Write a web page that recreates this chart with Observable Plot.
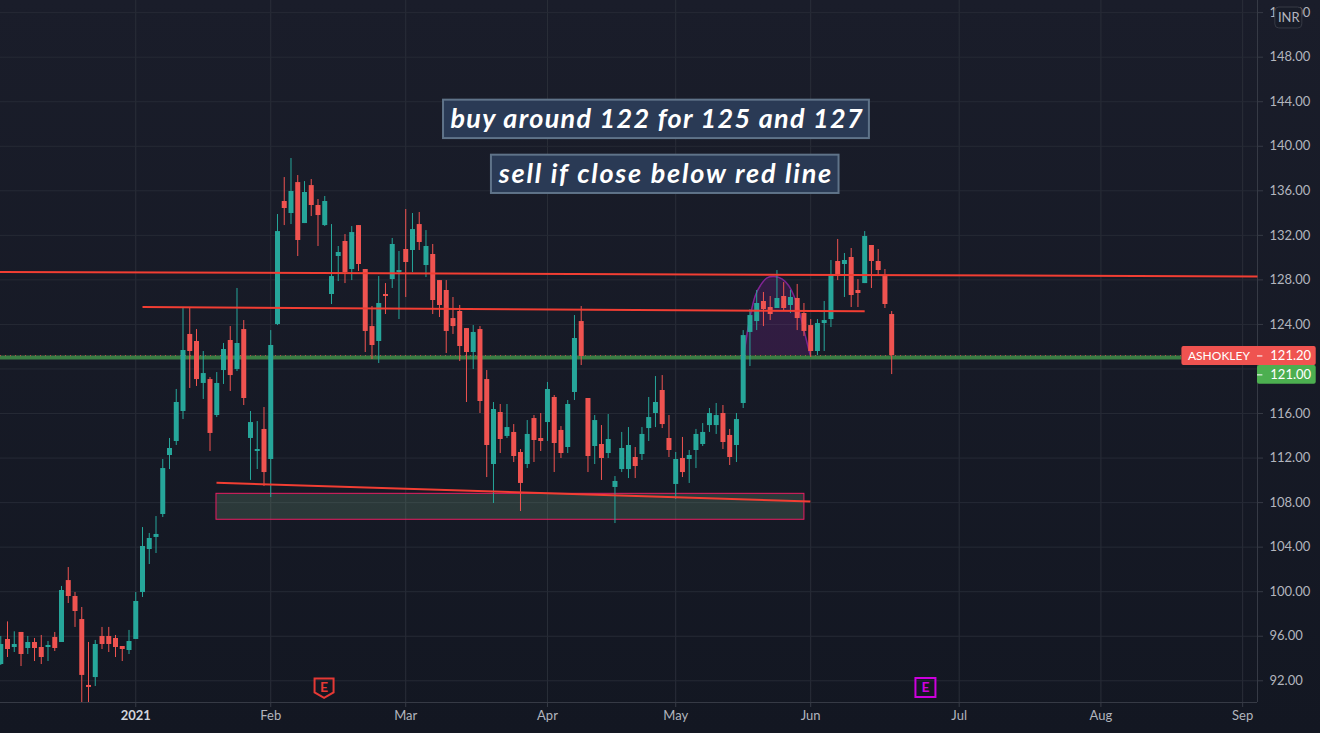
<!DOCTYPE html>
<html>
<head>
<meta charset="utf-8">
<script src="https://cdn.jsdelivr.net/npm/d3@7"></script>
<script src="https://cdn.jsdelivr.net/npm/@observablehq/plot@0.6"></script>
<style>
html,body{margin:0;padding:0;background:#131722;overflow:hidden}
svg{display:block}
.ann1 text{letter-spacing:1.3px}
.ann2 text{letter-spacing:1.8px}
</style>
</head>
<body>
<div id="chart"></div>
<script>
const firstIndex = -20;
const opens = [93.46,95.71,94.99,96.34,94.90,95.44,94.99,94.99,95.89,95.44,101.0,99.57,97.50,91.58,92.29,95.98,95.98,95.80,95.08,94.72,
95.71,99.93,103.79,104.87,106.93,112.23,113.49,116.18,123.10,122.47,118.70,119.05,115.82,119.86,122.56,119.95,123.54,113.76,112.59,114.57,
111.87,123.99,135.04,133.96,136.74,133.06,136.47,134.68,132.88,126.69,130.10,131.45,128.93,132.88,128.93,123.81,122.47,126.69,128.03,128.66,
130.73,130.64,132.97,129.29,130.28,127.94,127.05,124.53,125.16,123.63,121.48,123.54,119.05,111.42,116.09,113.94,114.30,112.50,111.42,115.55,
113.76,115.19,117.44,114.48,112.95,117.89,124.26,117.35,113.04,113.22,112.41,109.36,110.97,110.97,112.05,112.32,114.65,116.0,118.07,113.76,
109.63,111.96,111.87,112.68,113.22,114.92,114.92,116.0,114.03,113.13,116.90,123.28,124.26,126.06,125.52,125.43,126.51,125.70,126.33,124.98,
123.90,121.57,124.08,124.44,129.65,129.38,130.01,127.05,127.67,131.09,129.65,128.39,124.89];
const closes = [95.26,94.81,95.26,94.36,95.44,94.90,94.09,95.17,94.90,100.11,99.57,98.22,92.48,91.40,95.26,95.26,95.26,94.99,94.81,95.53,
99.12,104.06,104.78,105.14,111.06,112.86,116.99,121.66,121.57,119.05,119.59,114.21,118.70,121.75,119.41,122.29,117.35,115.19,112.77,110.70,
122.11,132.34,134.41,135.94,131.54,135.85,134.68,133.78,135.04,128.30,130.46,128.66,132.25,129.38,123.37,122.11,125.88,126.51,131.18,128.84,
129.56,132.52,131.36,131.0,126.15,125.70,123.37,123.81,122.02,121.48,123.28,117.08,113.13,116.36,113.67,114.74,112.14,109.72,114.12,113.58,
113.49,118.16,113.31,112.41,116.81,122.74,121.12,112.14,115.37,111.96,113.67,109.90,112.86,113.13,111.24,114.12,115.64,116.99,115.01,112.68,
111.87,110.70,112.23,114.12,114.30,116.0,115.82,113.40,112.05,115.46,123.0,124.80,125.88,125.34,124.89,126.33,125.43,126.42,124.53,123.37,
121.57,124.08,124.35,128.39,128.30,129.74,126.60,126.78,131.90,129.65,128.84,125.79,121.20];
const highs = [95.98,97.29,96.40,96.34,95.98,95.80,96.07,95.53,96.34,100.47,102.17,99.93,98.58,95.44,95.62,96.79,96.79,96.07,95.08,96.52,
99.93,105.76,105.23,106.75,111.87,113.76,118.16,125.52,125.43,123.54,121.57,119.23,119.68,122.29,123.81,127.23,124.35,116.18,115.28,116.54,
123.45,133.87,137.19,138.90,137.37,136.83,137.01,135.22,135.49,132.97,131.0,132.07,132.79,132.88,128.93,125.61,128.30,127.67,131.72,130.55,
134.32,133.96,134.05,132.43,131.18,127.94,127.94,126.42,125.70,123.63,123.90,123.81,119.86,116.99,116.81,116.81,115.01,112.77,115.37,115.82,
116.0,118.79,117.62,114.83,117.17,124.80,125.61,117.35,115.82,114.92,115.91,110.34,114.30,114.74,112.95,114.74,117.44,119.32,119.41,115.82,
112.50,113.85,112.68,114.57,115.10,116.45,116.90,116.72,114.57,116.0,123.45,125.34,127.05,126.87,126.51,128.84,127.76,127.05,127.59,125.88,
124.44,124.44,126.06,129.74,131.63,130.37,130.82,128.03,132.34,131.09,130.73,128.93,125.16];
const lows = [93.37,94.09,94.54,93.28,94.36,93.73,93.46,93.73,94.63,95.44,98.94,96.79,89.5,89.5,91.49,94.81,94.54,94.09,93.73,94.36,
95.71,99.48,102.44,103.43,106.66,110.97,113.13,115.46,118.25,118.43,117.26,112.59,115.64,118.61,117.98,119.77,116.72,109.99,110.97,109.45,
108.46,123.90,132.88,132.97,130.10,133.06,133.69,131.0,132.79,125.79,127.85,127.67,127.94,128.75,121.48,120.85,120.49,124.89,127.23,124.44,
126.42,128.66,130.64,128.21,124.89,124.62,121.39,123.10,120.67,116.99,119.95,116.0,110.25,107.92,112.41,113.76,111.60,107.20,111.06,111.60,
112.59,113.49,110.70,111.96,112.41,117.17,120.31,110.70,111.42,109.99,111.96,106.12,110.70,110.16,110.16,111.78,113.49,114.74,114.65,112.05,
108.28,110.25,109.72,111.06,113.04,114.30,114.12,112.77,111.33,111.60,116.45,120.22,123.45,123.81,124.35,125.43,125.25,124.98,123.45,122.92,
121.03,121.21,121.57,123.72,127.94,126.42,125.52,125.52,127.67,127.23,128.39,125.43,119.50];

const yGrid = [92,96,100,104,108,112,116,120,124,128,132,136,140,144,148,152];
const yTicks = [92,96,100,104,108,112,116,124,128,132,136,140,144,148,152];
const xTicks = [20,40,61,80,100,122,143,164];
const xLabels = ["Feb","Mar","Apr","May","Jun","Jul","Aug","Sep"];
const yearTick = [0];
const yearLabel = "2021";

const arcIdx = [90.08,90.57,91.06,91.8,92.55,93.53,94.63,95.74,96.73,97.7,98.47,99.2,99.95];
const arcPrice = [121.21,123.16,124.8,126.6,127.5,128.18,128.3,128.09,127.5,126.3,124.8,123.0,121.21];

const xMin = -20.04, xMax = 166.2, yMin = 90.05, yMax = 153.09;
const upColor = "#26a69a", downColor = "#ef5350", lineRed = "#f23e33";
const font = "Lato, 'Open Sans', sans-serif";

const candles = opens.map((o,i)=>({i:i+firstIndex,o,c:closes[i],h:highs[i],l:lows[i]}));
const col = d => d.c >= d.o ? upColor : downColor;
const arc = arcIdx.map((x,i)=>({x,y:arcPrice[i]}));
const trendLines = [
  {x1:xMin-0.3,y1:128.72,x2:xMax,y2:128.31},
  {x1:1,y1:125.57,x2:108,y2:125.18},
  {x1:11.96,y1:109.78,x2:99.95,y2:108.10}
];
const boxes = [
  {x1:45.6,x2:108.7,y1:140.69,y2:144.14,label:"buy around 122 for 125 and 127",tx:77.25,ty:142.42},
  {x1:52.7,x2:104.2,y1:135.76,y2:139.2,label:"sell if close below red line",tx:78.55,ty:137.48}
];
const shield = {draw(c){c.moveTo(-9.5,-9);c.lineTo(9.5,-9);c.lineTo(9.5,5);c.lineTo(0,10.5);c.lineTo(-9.5,5);c.closePath();}};
const square = {draw(c){c.moveTo(-10,-9.5);c.lineTo(10,-9.5);c.lineTo(10,9.5);c.lineTo(-10,9.5);c.closePath();}};
const annText = {x:"tx",y:"ty",text:"label",fill:"#ffffff",fontSize:27,fontWeight:"bold",fontStyle:"italic",fontFamily:font};

const plot = Plot.plot({
  width:1320,height:733,marginLeft:0,marginRight:63,marginTop:0,marginBottom:31,
  style:{background:"linear-gradient(#1a1d2a,#131722)",fontFamily:font,fontSize:"13px"},
  x:{domain:[xMin,xMax]},
  y:{domain:[yMin,yMax]},
  marks:[
    Plot.gridX(xTicks.concat(yearTick),{stroke:"#2a2e39",strokeOpacity:1}),
    Plot.gridY(yGrid,{stroke:"#262a35",strokeOpacity:1}),
    Plot.axisY({anchor:"right",ticks:yTicks,tickSize:5,tickPadding:7,label:null,tickFormat:d3.format(".2f"),stroke:"#363a45",fill:"#b2b5be",fontSize:13}),
    Plot.axisX({ticks:xTicks,tickSize:5,tickPadding:3,label:null,tickFormat:d=>xLabels[xTicks.indexOf(d)],stroke:"#363a45",fill:"#b2b5be",fontSize:13}),
    Plot.axisX({ticks:yearTick,tickSize:5,tickPadding:3,label:null,tickFormat:()=>yearLabel,stroke:"#363a45",fill:"#d1d4dc",fontSize:13,fontWeight:"bold"}),
    Plot.ruleY([yMin],{stroke:"#363a45"}),
    Plot.ruleX([xMax],{stroke:"#363a45"}),
    Plot.rect([{}],{x1:()=>11.96,x2:()=>99.07,y1:()=>106.46,y2:()=>108.79,fill:"#8fcf9a",fillOpacity:0.18,stroke:"#e91e63",strokeWidth:1}),
    Plot.areaY(arc,{x:"x",y1:()=>121.21,y2:"y",fill:"#9c27b0",fillOpacity:0.2,curve:"catmull-rom"}),
    Plot.line(arc,{x:"x",y:"y",stroke:"#9c27b0",strokeWidth:1.5,strokeOpacity:0.75,curve:"catmull-rom"}),
    Plot.ruleY([121.03],{x1:xMin,x2:155,stroke:"#3a7d44",strokeWidth:4}),
    Plot.ruleY([121.2],{x1:xMin,x2:155,stroke:"#ef5350",strokeWidth:1,strokeDasharray:"1,4",strokeOpacity:0.75}),
    Plot.ruleX(candles,{x:"i",y1:"l",y2:"h",stroke:col,strokeWidth:1,clip:true}),
    Plot.ruleX(candles,{x:"i",y1:"o",y2:"c",stroke:col,strokeWidth:5,clip:true}),
    Plot.link(trendLines,{x1:"x1",y1:"y1",x2:"x2",y2:"y2",stroke:lineRed,strokeWidth:2}),
    Plot.rect(boxes,{x1:"x1",x2:"x2",y1:"y1",y2:"y2",fill:"#2a3a55",stroke:"#5f7389",strokeWidth:2}),
    Plot.text(boxes.slice(0,1),{...annText,className:"ann1"}),
    Plot.text(boxes.slice(1),{...annText,className:"ann2"}),
    Plot.dot([{x:27.9,y:91.4}],{x:"x",y:"y",symbol:shield,stroke:"#e53935",strokeWidth:2,fill:"none"}),
    Plot.text([{x:27.9,y:91.4}],{x:"x",y:"y",text:()=>"E",fill:"#e53935",fontWeight:"bold",fontSize:14}),
    Plot.dot([{x:117,y:91.4}],{x:"x",y:"y",symbol:square,stroke:"#cc00dd",strokeWidth:2,fill:"none"}),
    Plot.text([{x:117,y:91.4}],{x:"x",y:"y",text:()=>"E",fill:"#cc00dd",fontWeight:"bold",fontSize:14}),
    Plot.rect([{}],{x1:()=>168.84,x2:()=>172.84,y1:()=>150.58,y2:()=>152.46,fill:"#181c28",stroke:"#363a45",rx:4}),
    Plot.text(["INR"],{x:()=>170.84,y:()=>151.5,text:d=>d,fill:"#b2b5be",fontSize:13,clip:false}),
    Plot.rect([{}],{x1:()=>155,x2:()=>174.9,y1:()=>120.31,y2:()=>122.02,fill:"#ef5350",rx:2}),
    Plot.rect([{}],{x1:()=>xMax,x2:()=>174.9,y1:()=>118.63,y2:()=>120.31,fill:"#4caf50",rx:2}),
    Plot.ruleY([121.17],{x1:xMax,x2:167,stroke:"#ffffff"}),
    Plot.ruleY([119.47],{x1:xMax,x2:167,stroke:"#ffffff"}),
    Plot.text(["ASHOKLEY"],{x:()=>155.9,y:()=>121.17,text:d=>d,textAnchor:"start",fill:"#ffffff",fontSize:12}),
    Plot.text(["121.20"],{x:()=>168.1,y:()=>121.17,text:d=>d,textAnchor:"start",fill:"#ffffff",fontSize:13}),
    Plot.text(["121.00"],{x:()=>168.1,y:()=>119.47,text:d=>d,textAnchor:"start",fill:"#ffffff",fontSize:13})
  ]
});
document.getElementById("chart").appendChild(plot);
</script>
</body>
</html>
